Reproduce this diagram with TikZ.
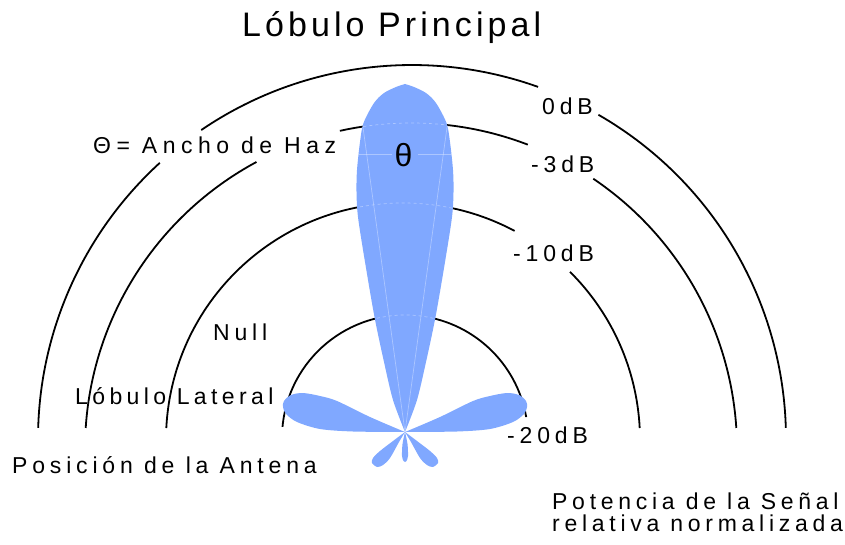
\documentclass[tikz,border=0pt]{standalone}
\usepackage{fontspec}
\setmainfont{Liberation Sans}
\newfontfamily\labelfont[LetterSpace=21]{Liberation Sans}
\newfontfamily\titlefont[LetterSpace=12]{Liberation Sans}
\usetikzlibrary{positioning}
\definecolor{lobeblue}{HTML}{80A8FF}

\newcommand{\dbarc}[4]{\draw[dbline] (#1) ++(#2:#4) arc[start angle=#2, end angle=#3, radius=#4];}
\newcommand{\mainlobe}{plot[smooth] coordinates {(0,0) (12,32) (21,70) (30.5,115) (40,170) (47,215) (48.5,240) (48,262) (45,290) (41.5,309) (31,329) (21,339) (9,345) (0,348)}
  -- plot[smooth] coordinates {(0,348) (-9,345) (-21,339) (-31,329) (-41.5,309) (-45,290) (-48,262) (-48.5,240) (-47,215) (-40,170) (-30.5,115) (-21,70) (-12,32) (0,0)} -- cycle}

\begin{document}
\begin{tikzpicture}[x=1pt, y=1pt,
            every node/.style={inner sep=0pt, anchor=base west},
            lbl/.style={font=\labelfont\fontsize{23}{23}\selectfont},
            dbline/.style={line width=1.8pt, black},
            lobe/.style={fill=lobeblue, draw=none},
            faint/.style={white, opacity=0.35, line width=0.7pt}]
            \useasboundingbox (0,0) rectangle (845,544);
            \coordinate (c0) at (412,105);
            \coordinate (c3) at (411,95);
            \coordinate (c10) at (403,104);
            \coordinate (c20) at (405,106);
            \coordinate (apex) at (405,112);
            % dB circles
            \dbarc{c0}{178.3}{132.4}{374}
            \dbarc{c0}{124.3}{70.3}{374}
            \dbarc{c0}{60.1}{1.7}{374}
            \dbarc{c3}{176.3}{118.3}{326}
            \dbarc{c3}{102.6}{69}{326}
            \dbarc{c3}{56}{3.7}{326}
            \dbarc{c10}{177.1}{61.9}{237}
            \dbarc{c10}{45.2}{2.9}{237}
            \dbarc{c20}{174.8}{9.8}{123}
            % lobes
            \begin{scope}[shift={(apex)}]
                \fill[lobe] \mainlobe;
                \fill[lobe] plot[smooth] coordinates {(0,0) (-35,15) (-68,31) (-85,36) (-102,39) (-114,37) (-121,31) (-122,25) (-119,18) (-108,10) (-85,3) (-52,0.5) (0,0)} -- cycle;
                \fill[lobe] plot[smooth] coordinates {(0,0) (35,15) (68,31) (85,36) (102,39) (114,37) (121,31) (122,25) (119,18) (108,10) (85,3) (52,0.5) (0,0)} -- cycle;
                \fill[lobe] plot[smooth] coordinates {(0,0) (-12,-9) (-25,-19) (-32,-26) (-33,-31) (-28,-35) (-22,-33) (-15,-26) (-6,-10) (0,0)} -- cycle;
                \fill[lobe] plot[smooth] coordinates {(0,0) (12,-9) (25,-19) (32,-26) (33,-31) (28,-35) (22,-33) (15,-26) (6,-10) (0,0)} -- cycle;
                \fill[lobe] plot[smooth] coordinates {(0,0) (-2.5,-12) (-3,-24) (-1.5,-29) (0,-30) (1.5,-29) (3,-24) (2.5,-12) (0,0)} -- cycle;
                \begin{scope}
                    \clip \mainlobe;
                    \draw[faint] (0,0) -- (97.85:330);
                    \draw[faint] (0,0) -- (82.15:330);
                    \draw[faint] (-50,278) -- (-13,278);
                    \draw[faint] (13,278) -- (50,278);
                \end{scope}
            \end{scope}
            \begin{scope}
                \clip[shift={(apex)}] \mainlobe;
                \draw[faint, dashed] (c3) ++(110:326) arc[start angle=110, end angle=70, radius=326];
                \draw[faint, dashed] (c10) ++(115:237) arc[start angle=115, end angle=65, radius=237];
                \draw[faint, dashed] (c20) ++(120:123) arc[start angle=120, end angle=60, radius=123];
            \end{scope}
            % labels
            \node[font=\titlefont\fontsize{34}{34}\selectfont] (title) at (242,507) {Lóbulo Principal};
            \node[lbl] (db0) at (542,429) {0dB};
            \node[lbl] (db3) at (531,371) {-3dB};
            \node[lbl] (db10) at (513,283) {-10dB};
            \node[lbl] (db20) at (507,101) {-20dB};
            \node[lbl] (beam) at (93,390) {\addfontfeature{LetterSpace=24}Θ= Ancho de Haz};
            \node[lbl] (null) at (213,204) {Null};
            \node[lbl] (side) at (75,140) {\addfontfeature{LetterSpace=19}Lóbulo Lateral};
            \node[lbl] (antenna) at (12,71) {Posición de la Antena};
            \node[lbl] (power) at (552,35) {\addfontfeature{LetterSpace=20.5}Potencia de la Señal};
            \node[lbl, below=5pt of power.south west, anchor=north west] (relpower) {\addfontfeature{LetterSpace=20.5}relativa normalizada};
            \node[anchor=center, font=\fontsize{32}{32}\selectfont] (theta) at (403.5,389) {θ};
\end{tikzpicture}
\end{document}
